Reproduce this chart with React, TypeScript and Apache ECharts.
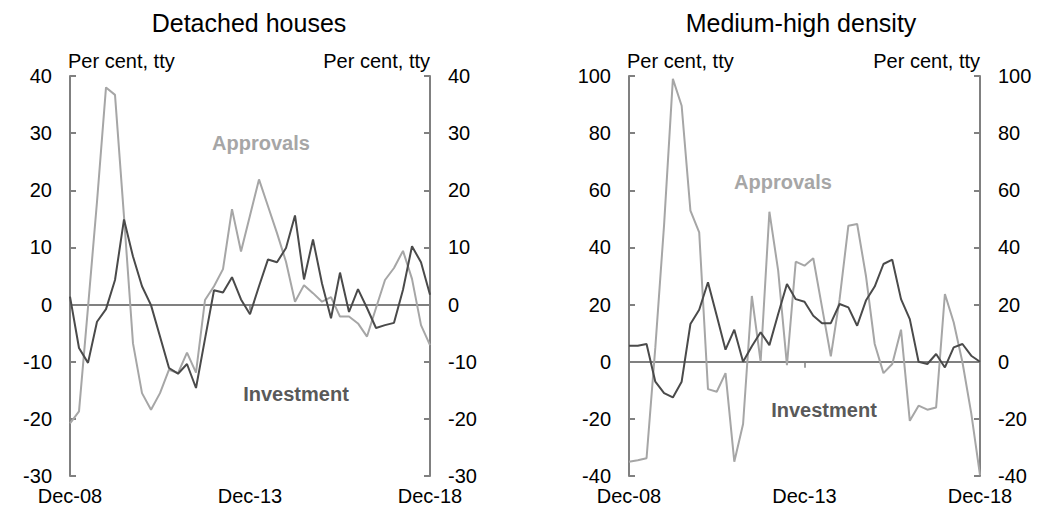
import React, { useEffect, useRef } from "react";
import * as echarts from "echarts";

const categories = [
  "Dec-08", "Mar-09", "Jun-09", "Sep-09", "Dec-09", "Mar-10", "Jun-10", "Sep-10", "Dec-10",
  "Mar-11", "Jun-11", "Sep-11", "Dec-11", "Mar-12", "Jun-12", "Sep-12", "Dec-12",
  "Mar-13", "Jun-13", "Sep-13", "Dec-13", "Mar-14", "Jun-14", "Sep-14", "Dec-14",
  "Mar-15", "Jun-15", "Sep-15", "Dec-15", "Mar-16", "Jun-16", "Sep-16", "Dec-16",
  "Mar-17", "Jun-17", "Sep-17", "Dec-17", "Mar-18", "Jun-18", "Sep-18", "Dec-18",
];
const xTickLabels = ["Dec-08", "Dec-13", "Dec-18"];
const midTick = "Dec-13";

const detachedInvestment = [
  1.4, -7.6, -10.2, -3.0, -0.8, 4.3, 14.9, 8.4, 3.2, -0.1, -5.6, -11.1, -12.1, -10.4,
  -14.6, -6.0, 2.5, 2.1, 4.8, 0.9, -1.7, 3.2, 7.9, 7.4, 9.9, 15.6, 4.4, 11.4, 3.7,
  -2.4, 5.6, -1.3, 2.7, -0.6, -4.1, -3.6, -3.2, 2.6, 10.2, 7.4, 1.7,
];
const detachedApprovals = [
  -20.8, -18.7, -0.5, 18.0, 38.0, 36.7, 15.4, -6.8, -15.5, -18.4, -15.5, -11.4, -12.0,
  -8.4, -11.9, 0.8, 3.2, 6.2, 16.7, 9.3, 15.6, 21.9, 17.2, 12.5, 7.5, 0.5, 3.4, 2.0,
  0.5, 1.3, -2.1, -2.1, -3.3, -5.6, -0.6, 4.3, 6.4, 9.4, 4.5, -3.6, -7.1,
];
const mhdInvestment = [
  5.6, 5.6, 6.2, -7.0, -11.0, -12.5, -7.0, 13.2, 18.2, 27.8, 16.1, 4.2, 11.2, 0.0,
  5.4, 10.3, 5.8, 16.7, 27.2, 21.9, 21.0, 16.1, 13.5, 13.5, 20.2, 19.0, 12.6, 21.4,
  26.3, 34.2, 35.7, 21.9, 14.9, 0.0, -0.8, 2.7, -2.0, 5.0, 6.2, 2.1, 0.0,
];
const mhdApprovals = [
  -35.0, -34.5, -33.8, 5.0, 48.0, 99.0, 89.6, 52.9, 45.3, -9.6, -10.5, -4.0, -35.0,
  -21.8, 23.0, 0.0, 52.5, 31.9, -1.2, 35.0, 33.6, 36.2, 19.0, 1.9, 21.9, 47.6, 48.2,
  30.1, 6.2, -4.0, -0.8, 11.2, -20.7, -15.4, -16.8, -16.0, 23.7, 13.8, -0.2, -18.0, -39.7,
];

const leftAxis = { min: -30, max: 40, interval: 10 };
const rightAxis = { min: -40, max: 100, interval: 20 };

const FONT = "'Liberation Sans', Arial, sans-serif";
const AXIS_GREY = "#808080";
const APPROVALS_GREY = "#a6a6a6";
const INVEST_GREY = "#4a4a4a";
const TICK_SIZE = 20;

export default function App() {
  const ref = useRef<HTMLDivElement>(null);
  useEffect(() => {
    if (!ref.current) return;
    const chart = echarts.init(ref.current, undefined, { renderer: "svg" });

    const grids = [
      { left: 70, right: 612, top: 76, bottom: 37 },
      { left: 629, right: 62, top: 76, bottom: 37 },
    ];
    const scales = [leftAxis, rightAxis];

    const xAxes: any[] = [];
    const yAxes: any[] = [];
    grids.forEach((_, g) => {
      xAxes.push({
        type: "category",
        gridIndex: g,
        data: categories,
        boundaryGap: false,
        position: "bottom",
        axisLine: { show: false, onZero: false },
        axisTick: { show: false },
        splitLine: { show: false },
        axisLabel: {
          interval: (i: number, v: string) => xTickLabels.includes(v),
          fontSize: TICK_SIZE,
          color: "#000",
          fontFamily: FONT,
          margin: 10,
        },
      });
      xAxes.push({
        type: "category",
        gridIndex: g,
        data: categories,
        boundaryGap: false,
        axisLine: { show: true, onZero: true, lineStyle: { color: AXIS_GREY, width: 2 } },
        axisTick: {
          show: true,
          inside: true,
          length: 6,
          interval: (i: number, v: string) => v === midTick,
          lineStyle: { color: AXIS_GREY, width: 1.5 },
        },
        axisLabel: { show: false },
        splitLine: { show: false },
      });
      (["left", "right"] as const).forEach((pos) => {
        yAxes.push({
          type: "value",
          gridIndex: g,
          position: pos,
          min: scales[g].min,
          max: scales[g].max,
          interval: scales[g].interval,
          name: "Per cent, tty",
          nameLocation: "end",
          nameGap: 5,
          nameTextStyle: {
            fontSize: TICK_SIZE,
            color: "#000",
            fontFamily: FONT,
            align: pos === "left" ? "left" : "right",
            verticalAlign: "bottom",
            padding: pos === "left" ? [0, 0, 0, -2] : [0, 0, 0, 0],
          },
          axisLine: { show: true, lineStyle: { color: AXIS_GREY, width: 2 } },
          axisTick: { show: true, inside: true, length: 6, lineStyle: { color: AXIS_GREY, width: 2 } },
          splitLine: { show: false },
          axisLabel: { fontSize: TICK_SIZE, color: "#000", fontFamily: FONT, margin: 18 },
        });
      });
    });

    const mkSeries = (name: string, data: number[], g: number, color: string) => ({
      name,
      type: "line",
      xAxisIndex: g * 2,
      yAxisIndex: g * 2,
      data,
      showSymbol: false,
      symbol: "none",
      lineStyle: { color, width: 2 },
      itemStyle: { color },
      z: 3,
    });

    const text = (t: string, x: number, y: number, size: number, color: string, bold = false) => ({
      type: "text",
      x,
      y,
      style: {
        text: t,
        fill: color,
        font: `${bold ? "bold " : ""}${size}px ${FONT}`,
        textAlign: "center",
        textVerticalAlign: "middle",
      },
    });

    chart.setOption({
      animation: false,
      grid: grids,
      xAxis: xAxes,
      yAxis: yAxes,
      series: [
        mkSeries("Approvals", detachedApprovals, 0, APPROVALS_GREY),
        mkSeries("Investment", detachedInvestment, 0, INVEST_GREY),
        mkSeries("Approvals", mhdApprovals, 1, APPROVALS_GREY),
        mkSeries("Investment", mhdInvestment, 1, INVEST_GREY),
      ],
      graphic: [
        text("Detached houses", 249, 23, 25, "#000"),
        text("Medium-high density", 801, 23, 25, "#000"),
        text("Approvals", 261, 143, 20, APPROVALS_GREY, true),
        text("Investment", 296, 394, 20, "#595959", true),
        text("Approvals", 783, 182, 20, APPROVALS_GREY, true),
        text("Investment", 824, 410, 20, "#595959", true),
      ],
    });
    return () => chart.dispose();
  }, []);
  return (
    <div
      ref={ref}
      style={{ position: "fixed", left: 0, top: 0, width: 1042, height: 513, background: "#fff" }}
    />
  );
}
